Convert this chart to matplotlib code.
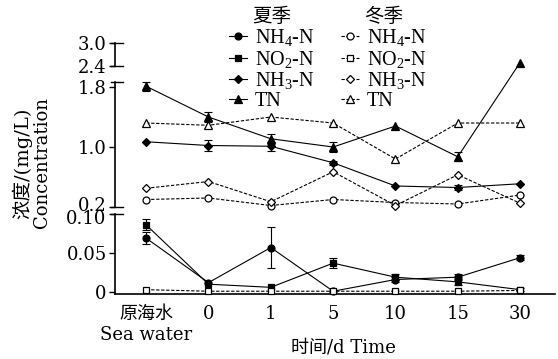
import numpy as np
import matplotlib
matplotlib.use("Agg")
import matplotlib.pyplot as plt
import matplotlib.transforms as mtransforms

plt.rcParams['font.family'] = ['DejaVu Serif', 'Noto Sans CJK SC']
plt.rcParams['mathtext.fontset'] = 'custom'
plt.rcParams['mathtext.rm'] = 'Liberation Serif'
plt.rcParams['mathtext.it'] = 'Liberation Serif:italic'

# data
x_labels = ['原海水\nSea water', '0', '1', '5', '10', '15', '30']

nh4_summer = [0.069, 0.012, 0.057, 0.001, 0.016, 0.019, 0.044]
nh4_summer_err = [0.008, 0.0, 0.026, 0.0, 0.003, 0.004, 0.003]
no2_summer = [0.086, 0.010, 0.006, 0.037, 0.019, 0.013, 0.003]
no2_summer_err = [0.007, 0.0, 0.0, 0.006, 0.004, 0.004, 0.002]
nh3_summer = [1.07, 1.02, 1.01, 0.79, 0.48, 0.46, 0.51]
nh3_summer_err = [0.0, 0.07, 0.06, 0.03, 0.0, 0.03, 0.0]
tn_summer = [1.81, 1.40, 1.11, 1.00, 1.28, 0.87, 2.49]
tn_summer_err = [0.06, 0.07, 0.07, 0.07, 0.0, 0.06, 0.0]

nh4_winter = [0.30, 0.32, 0.22, 0.30, 0.26, 0.24, 0.36]
no2_winter = [0.003, 0.001, 0.001, 0.001, 0.001, 0.001, 0.002]
nh3_winter = [0.45, 0.54, 0.27, 0.67, 0.22, 0.63, 0.25]
tn_winter = [1.32, 1.29, 1.40, 1.32, 0.84, 1.32, 1.32]

y_ticks = [0, 0.05, 0.10, 0.2, 1.0, 1.8, 2.4, 3.0]
y_tick_labels = ['0', '0.05', '0.10', '0.2', '1.0', '1.8', '2.4', '3.0']

# broken axis done as a piecewise linear scale
brk_vals = [-0.1, 0.0, 0.10, 0.2, 1.867, 2.4, 3.0, 4.0]
brk_h = [-78, 0, 78, 85, 210, 226, 249, 287]
segments = [(-0.00256, 0.10), (0.2, 1.867), (2.4, 3.0)]


def fwd(v):
    return np.interp(v, brk_vals, brk_h)


def inv(h):
    return np.interp(h, brk_h, brk_vals)


fig = plt.figure(figsize=(5.58, 3.59), dpi=100)
ax = fig.add_axes([115 / 558, 65 / 359, 440 / 558, 251 / 359])
ax.set_yscale('function', functions=(fwd, inv))

x = np.arange(len(x_labels))


def draw(vals, marker, filled, dashed, label, err=None):
    ls = (0, (3, 1.5)) if dashed else '-'
    ms = {'o': 5, 's': 5, 'D': 4.5, '^': 5.5}[marker]
    line, = ax.plot(x, vals, linestyle=ls, color='black', lw=0.8,
                    marker=marker, ms=ms,
                    markerfacecolor='black' if filled else 'white',
                    markeredgecolor='black', markeredgewidth=0.9,
                    label=label, clip_on=False, zorder=3)
    if err is not None:
        err = np.array(err)
        m = err > 0
        ax.errorbar(x[m], np.array(vals)[m], yerr=err[m], fmt='none',
                    ecolor='black', elinewidth=0.8, capsize=3,
                    capthick=0.8, zorder=2)
    return line


h_s = [
    draw(nh4_summer, 'o', True, False, 'NH$_4$-N', nh4_summer_err),
    draw(no2_summer, 's', True, False, 'NO$_2$-N', no2_summer_err),
    draw(nh3_summer, 'D', True, False, 'NH$_3$-N', nh3_summer_err),
    draw(tn_summer, '^', True, False, 'TN', tn_summer_err),
]
h_w = [
    draw(nh4_winter, 'o', False, True, 'NH$_4$-N'),
    draw(no2_winter, 's', False, True, 'NO$_2$-N'),
    draw(nh3_winter, 'D', False, True, 'NH$_3$-N'),
    draw(tn_winter, '^', False, True, 'TN'),
]

ax.set_xlim(-0.5, 6.56)
ax.set_ylim(-0.00256, 3.0)
ax.set_xticks(x)
ax.set_xticklabels(x_labels)
ax.tick_params(axis='x', length=0, pad=8, labelsize=13)
ax.set_yticks(y_ticks)
ax.set_yticklabels(y_tick_labels)
ax.yaxis.set_minor_locator(matplotlib.ticker.NullLocator())
ax.tick_params(axis='y', direction='out', length=4, width=1, pad=2,
               labelsize=13)
# the two labels at the lower break sit very close, as in the original
for lab in ax.get_yticklabels():
    if lab.get_text() == '0.2':
        lab.set_transform(lab.get_transform() +
                          mtransforms.ScaledTranslation(0, 3 / 100, fig.dpi_scale_trans))
    if lab.get_text() == '0.10':
        lab.set_transform(lab.get_transform() +
                          mtransforms.ScaledTranslation(0, -3 / 100, fig.dpi_scale_trans))

for s in ['top', 'right', 'left']:
    ax.spines[s].set_visible(False)
ax.spines['bottom'].set_linewidth(1.2)

# left axis drawn in pieces
trans = mtransforms.blended_transform_factory(ax.transAxes, ax.transData)
cap = 8 / 440
for lo, hi in segments:
    ax.plot([0, 0], [lo, hi], color='black', lw=1.2, transform=trans,
            clip_on=False)
    ax.plot([-cap / 2, cap], [hi, hi], color='black', lw=1.0,
            transform=trans, clip_on=False)
    if lo > 0:
        ax.plot([-cap / 2, cap], [lo, lo], color='black', lw=1.0,
                transform=trans, clip_on=False)

leg_kw = dict(frameon=False, handlelength=0.9,
              handletextpad=0.4, labelspacing=0.02, borderpad=0,
              borderaxespad=0, loc='upper left',
              bbox_transform=fig.transFigure,
              prop={'family': 'Liberation Serif', 'size': 14.5},
              title_fontproperties={'family': 'Noto Sans CJK SC',
                                    'size': 14})
leg1 = ax.legend(handles=h_s, title='夏季',
                 bbox_to_anchor=(229 / 558, 1 - 6 / 359), **leg_kw)
ax.add_artist(leg1)
leg2 = ax.legend(handles=h_w, title='冬季',
                 bbox_to_anchor=(341 / 558, 1 - 6 / 359), **leg_kw)

fig.text(22 / 558, 1 - 163 / 359, '浓度/(mg/L)', rotation=90,
         ha='center', va='center', fontsize=14)
fig.text(42 / 558, 1 - 163 / 359, 'Concentration', rotation=90,
         ha='center', va='center', fontsize=13)
fig.text(343 / 558, 1 - 347 / 359, '时间/d Time', ha='center',
         va='center', fontsize=13)

fig.savefig('out.png', dpi=100)
